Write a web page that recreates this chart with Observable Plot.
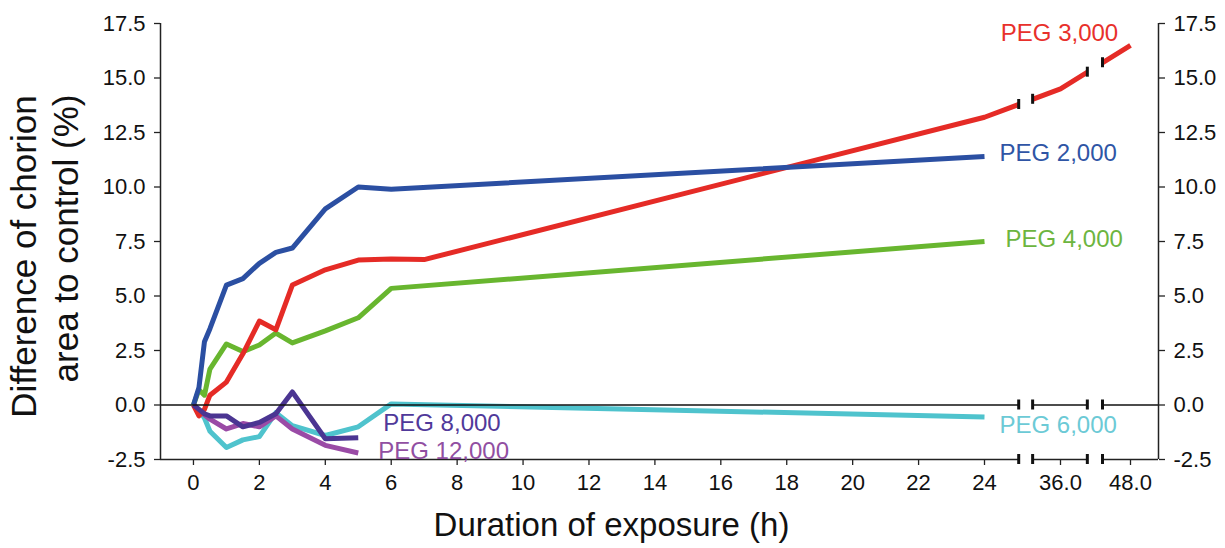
<!DOCTYPE html>
<html>
<head>
<meta charset="utf-8">
<script src="https://cdn.jsdelivr.net/npm/d3@7"></script>
<script src="https://cdn.jsdelivr.net/npm/@observablehq/plot@0.6"></script>
<style>
  body { margin: 0; background: #fff; }
  #chart svg { display: block; }
</style>
</head>
<body>
<div id="chart"></div>
<script>
// ---------- data ----------
const xTickValues = [0, 2, 4, 6, 8, 10, 12, 14, 16, 18, 20, 22, 24, 36, 48];
const xTickLabels = ["0", "2", "4", "6", "8", "10", "12", "14", "16", "18", "20", "22", "24", "36.0", "48.0"];
const yTickValues = [-2.5, 0, 2.5, 5, 7.5, 10, 12.5, 15, 17.5];

const seriesNames = ["PEG 6,000", "PEG 12,000", "PEG 4,000", "PEG 3,000", "PEG 2,000", "PEG 8,000"];

const hours6000 = [0, 1/6, 1/3, 0.5, 1, 1.5, 2, 2.5, 3, 4, 5, 6, 24];
const vals6000  = [0, -0.2, -0.6, -1.2, -1.95, -1.6, -1.45, -0.35, -0.95, -1.4, -1.0, 0.05, -0.55];

const hours12000 = [0, 1/6, 1/3, 0.5, 1, 1.5, 2, 2.5, 3, 4, 5];
const vals12000  = [0, -0.25, -0.45, -0.65, -1.1, -0.85, -1.0, -0.5, -1.1, -1.85, -2.2];

const hours4000 = [0, 1/6, 1/3, 0.5, 1, 1.5, 2, 2.5, 3, 4, 5, 6, 24];
const vals4000  = [0, 0.7, 0.45, 1.65, 2.8, 2.45, 2.75, 3.3, 2.85, 3.4, 4.0, 5.35, 7.5];

const hours3000 = [0, 1/6, 1/3, 0.5, 1, 1.5, 2, 2.5, 3, 4, 5, 6, 7, 24, 36, 48];
const vals3000  = [0, -0.5, -0.2, 0.45, 1.05, 2.35, 3.85, 3.45, 5.5, 6.2, 6.65, 6.7, 6.67, 13.2, 14.5, 16.5];

const hours2000 = [0, 1/6, 1/3, 0.5, 1, 1.5, 2, 2.5, 3, 4, 5, 6, 24];
const vals2000  = [0, 0.8, 2.9, 3.5, 5.5, 5.8, 6.5, 7.0, 7.2, 9.0, 10.0, 9.9, 11.4];

const hours8000 = [0, 1/6, 1/3, 0.5, 1, 1.5, 2, 2.5, 3, 4, 5];
const vals8000  = [0, -0.2, -0.4, -0.5, -0.5, -1.0, -0.8, -0.4, 0.6, -1.55, -1.5];

// axis break gaps (hours on the broken time axis)
const axisGaps = [[29.4, 31.6], [40.6, 43.2]];

const xTitle = "Duration of exposure (h)";
const yTitleLines = ["Difference of chorion", "area to control (%)"];

// ---------- styles ----------
const lineColors  = ["#4fc3cd", "#9a4ba6", "#68b62f", "#e52b26", "#2b4fa2", "#4b3592"];
const labelColors = ["#6ccad6", "#914fa2", "#6db53f", "#e8302b", "#2f55a5", "#50399a"];
const labelOffsets = {
  "PEG 6,000":  {dx: 15, dy: 8,   anchor: "start"},
  "PEG 12,000": {dx: 20, dy: -2,  anchor: "start"},
  "PEG 4,000":  {dx: 21, dy: -2,  anchor: "start"},
  "PEG 3,000":  {dx: -71, dy: -12, anchor: "middle"},
  "PEG 2,000":  {dx: 15, dy: -3,  anchor: "start"},
  "PEG 8,000":  {dx: 25, dy: -14, anchor: "start"}
};
const FONT = "'Liberation Sans', Arial, Helvetica, sans-serif";

// ---------- build rows ----------
const seriesData = [
  [hours6000, vals6000], [hours12000, vals12000], [hours4000, vals4000],
  [hours3000, vals3000], [hours2000, vals2000], [hours8000, vals8000]
];
const rows = [];
seriesNames.forEach((name, i) => {
  const [hs, vs] = seriesData[i];
  hs.forEach((h, j) => rows.push({series: name, h, v: vs[j]}));
});
const lastPoints = seriesNames.map((name, i) => {
  const [hs, vs] = seriesData[i];
  return {series: name, h: hs[hs.length - 1], v: vs[vs.length - 1]};
});

const xMin = -1, xMax = 52.8;
const segs = [];
let start = xMin;
for (const [a, b] of axisGaps) { segs.push([start, a]); start = b; }
segs.push([start, xMax]);

// break marks: on bottom axis, zero line, and the PEG 3,000 line
const redInterp = d3.scaleLinear().domain(hours3000).range(vals3000);
const breakMarks = [];
for (const g of axisGaps) for (const e of g) {
  breakMarks.push({h: e, v: -2.5});
  breakMarks.push({h: e, v: 0});
  breakMarks.push({h: e, v: redInterp(e)});
}

const labelMap = new Map(xTickValues.map((d, i) => [d, xTickLabels[i]]));

const labelMarks = lastPoints.map((p, i) => {
  const o = labelOffsets[p.series];
  return Plot.text([p], {
    x: "h", y: "v", text: "series",
    dx: o.dx, dy: o.dy, textAnchor: o.anchor,
    fill: labelColors[i], fontSize: 24, fontFamily: FONT
  });
});

const chart = Plot.plot({
  width: 1225,
  height: 548,
  marginLeft: 160,
  marginRight: 67,
  marginTop: 23,
  marginBottom: 89,
  style: {fontFamily: FONT, fontSize: "22px", color: "#111", background: "#fff"},
  x: {type: "linear", domain: [xMin, 24, 36, 48, xMax], range: [160, 984, 1060, 1130, 1158]},
  y: {domain: [-2.5, 17.5]},
  color: {domain: seriesNames, range: lineColors},
  marks: [
    Plot.line(rows, {x: "h", y: "v", z: "series", stroke: "series", strokeWidth: 5, strokeLinejoin: "round", strokeLinecap: "butt"}),
    Plot.rect(axisGaps, {x1: d => d[0], x2: d => d[1], y1: -2.5, y2: 17.5, fill: "#fff"}),
    Plot.ruleY(segs, {y: 0, x1: d => d[0], x2: d => d[1], stroke: "#111", strokeWidth: 1.3}),
    Plot.ruleY(segs, {y: -2.5, x1: d => d[0], x2: d => d[1], stroke: "#222", strokeWidth: 1.5}),
    Plot.ruleX([xMin, xMax], {y1: -2.5, y2: 17.5, stroke: "#222", strokeWidth: 1.5}),
    Plot.ruleX(breakMarks, {x: "h", y1: "v", y2: "v", insetTop: -5, insetBottom: -5, stroke: "#111", strokeWidth: 3}),
    Plot.axisY(yTickValues, {anchor: "left", label: null, tickSize: 6, tickPadding: 9, tickFormat: d => d.toFixed(1), stroke: "#222", strokeWidth: 1.3}),
    Plot.axisY(yTickValues, {anchor: "right", label: null, tickSize: 6, tickPadding: 9, tickFormat: d => d.toFixed(1), stroke: "#222", strokeWidth: 1.3}),
    Plot.axisX(xTickValues, {anchor: "bottom", label: null, tickSize: 6, tickPadding: 9, tickFormat: d => labelMap.get(d), stroke: "#222", strokeWidth: 1.3}),
    Plot.text([xTitle], {frameAnchor: "bottom", dx: -48, dy: 66, lineAnchor: "middle", fontSize: 33, fill: "#111", fontFamily: FONT}),
    Plot.text([yTitleLines[0]], {frameAnchor: "left", textAnchor: "middle", dx: -136, dy: 15, rotate: -90, lineAnchor: "middle", fontSize: 35, fill: "#111", fontFamily: FONT}),
    Plot.text([yTitleLines[1]], {frameAnchor: "left", textAnchor: "middle", dx: -94, dy: -3, rotate: -90, lineAnchor: "middle", fontSize: 35, fill: "#111", fontFamily: FONT}),
    ...labelMarks
  ]
});
document.getElementById("chart").appendChild(chart);
</script>
</body>
</html>
